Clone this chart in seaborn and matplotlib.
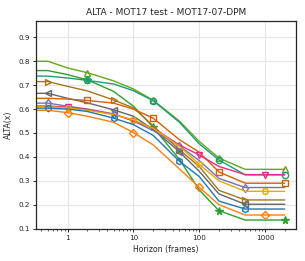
import matplotlib
matplotlib.use("Agg")
import matplotlib.pyplot as plt
import seaborn as sns
import pandas as pd

# horizon values (first point only carries the flat start to the left edge)
horizons = [0.3, 0.5, 1, 2, 5, 10, 20, 50, 100, 200, 500, 1000, 2000]

# ALTA(x) per tracker
alta_yellowgreen = [0.800, 0.800, 0.772, 0.752, 0.718, 0.684, 0.637, 0.550, 0.465, 0.395, 0.348, 0.348, 0.348]
alta_green = [0.761, 0.761, 0.744, 0.722, 0.674, 0.612, 0.524, 0.390, 0.262, 0.175, 0.136, 0.136, 0.136]
alta_teal = [0.738, 0.738, 0.730, 0.720, 0.705, 0.677, 0.635, 0.545, 0.455, 0.387, 0.325, 0.325, 0.325]
alta_brown = [0.715, 0.715, 0.695, 0.676, 0.638, 0.605, 0.530, 0.430, 0.360, 0.260, 0.220, 0.220, 0.220]
alta_gray = [0.666, 0.666, 0.645, 0.626, 0.597, 0.570, 0.515, 0.422, 0.340, 0.245, 0.202, 0.202, 0.202]
alta_darkorange = [0.645, 0.645, 0.642, 0.636, 0.625, 0.600, 0.562, 0.472, 0.420, 0.337, 0.290, 0.290, 0.290]
alta_purple = [0.625, 0.625, 0.612, 0.600, 0.580, 0.550, 0.510, 0.446, 0.385, 0.310, 0.272, 0.272, 0.272]
alta_pink = [0.613, 0.613, 0.608, 0.598, 0.578, 0.552, 0.520, 0.450, 0.408, 0.360, 0.326, 0.326, 0.326]
alta_gold = [0.610, 0.610, 0.605, 0.595, 0.577, 0.555, 0.520, 0.445, 0.369, 0.300, 0.256, 0.256, 0.256]
alta_blue = [0.604, 0.604, 0.600, 0.590, 0.562, 0.535, 0.490, 0.382, 0.318, 0.215, 0.182, 0.182, 0.182]
alta_orange = [0.595, 0.595, 0.585, 0.570, 0.545, 0.502, 0.450, 0.350, 0.273, 0.200, 0.157, 0.157, 0.157]

series = [
    # values, colour, marker, first marker index, filled
    (alta_yellowgreen, "#66a61e", "^", 3, False),
    (alta_green, "#2ca02c", "*", 3, True),
    (alta_teal, "#1b9e77", "o", 3, False),
    (alta_brown, "#a6761d", ">", 1, False),
    (alta_gray, "#666666", "<", 1, False),
    (alta_darkorange, "#d95f02", "s", 3, False),
    (alta_purple, "#7570b3", "d", 1, False),
    (alta_pink, "#e7298a", "v", 2, False),
    (alta_gold, "#e6ab02", "H", 2, False),
    (alta_blue, "#1f77b4", "h", 1, False),
    (alta_orange, "#ff7f0e", "D", 2, False),
]

sns.set_theme(style="whitegrid", rc={
    "axes.edgecolor": "0.15",
    "grid.color": "0.9",
    "xtick.bottom": True,
    "ytick.left": True,
})
plt.rcParams["font.family"] = ["DejaVu Sans"]

fig = plt.figure(figsize=(3.05, 2.61), dpi=100)
ax = fig.add_axes([0.118, 0.124, 0.852, 0.797])

for vals, color, marker, start, filled in series:
    df = pd.DataFrame({"horizon": horizons, "alta": vals})
    sns.lineplot(data=df, x="horizon", y="alta", ax=ax, color=color,
                 marker=marker, markevery=(start, 3), markersize=4.5 if marker != "*" else 5.5,
                 markerfacecolor=color if filled else "none",
                 markeredgecolor=color, markeredgewidth=1.0,
                 linewidth=1.0, estimator=None, sort=False)

ax.set_xscale("log")
ax.set_xlim(0.33, 2950)
ax.set_ylim(0.1, 0.97)
ax.set_xticks([1, 10, 100, 1000])
ax.set_xticklabels(["1", "10", "100", "1000"])
ax.set_yticks([0.1, 0.2, 0.3, 0.4, 0.5, 0.6, 0.7, 0.8, 0.9])
ax.grid(True, which="major", color="0.9", linewidth=0.8)
ax.grid(False, which="minor")
ax.tick_params(axis="both", which="major", labelsize=5.2, length=2.5, width=0.7, pad=2, color="0.15")
ax.tick_params(axis="x", which="minor", length=1.5, width=0.5, bottom=True, color="0.15")
for sp in ax.spines.values():
    sp.set_color("0.15")
    sp.set_linewidth(0.9)

ax.set_title("ALTA - MOT17 test - MOT17-07-DPM", fontsize=6.5, pad=4)
ax.set_xlabel("Horizon (frames)", fontsize=5.6, labelpad=3)
ax.set_ylabel("ALTA(x)", fontsize=5.6, labelpad=4)

fig.savefig("out.png", dpi=100)
